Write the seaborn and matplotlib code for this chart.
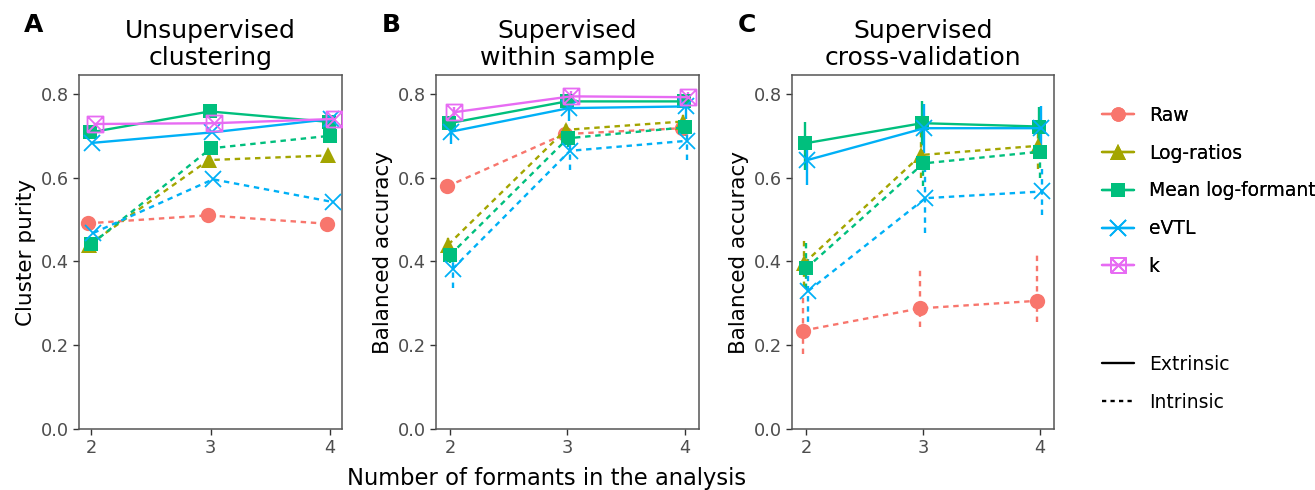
import numpy as np
import pandas as pd
import matplotlib
matplotlib.use("Agg")
import matplotlib.pyplot as plt
from matplotlib.lines import Line2D
from matplotlib.path import Path
import seaborn as sns

# ---- data ----
formants = [2, 3, 4]

# group order: (method, type)
groups = [("Raw", "Intrinsic"), ("Log-ratios", "Intrinsic"),
          ("Mean log-formant", "Extrinsic"), ("Mean log-formant", "Intrinsic"),
          ("eVTL", "Extrinsic"), ("eVTL", "Intrinsic"), ("k", "Extrinsic")]

# A: unsupervised clustering (cluster purity)
a_raw_i = [0.491, 0.510, 0.490]
a_lr_i = [0.440, 0.642, 0.653]
a_mlf_e = [0.708, 0.758, 0.733]
a_mlf_i = [0.441, 0.670, 0.700]
a_evtl_e = [0.683, 0.708, 0.740]
a_evtl_i = [0.468, 0.596, 0.542]
a_k_e = [0.728, 0.730, 0.740]

# B: supervised within sample (balanced accuracy) + interval half-width
b_raw_i = [0.579, 0.704, 0.718]
b_lr_i = [0.440, 0.714, 0.734]
b_mlf_e = [0.730, 0.782, 0.782]
b_mlf_i = [0.416, 0.694, 0.720]
b_evtl_e = [0.710, 0.766, 0.770]
b_evtl_i = [0.382, 0.664, 0.688]
b_k_e = [0.756, 0.794, 0.792]
b_err = [0.015, 0.015, 0.012, 0.02, 0.03, 0.045, 0.012]

# C: supervised cross-validation (balanced accuracy) with lower/upper bounds
c_raw_i = [0.235, 0.288, 0.306]
c_raw_lo = [0.180, 0.244, 0.256]
c_raw_hi = [0.324, 0.386, 0.415]
c_lr_i = [0.396, 0.654, 0.676]
c_lr_lo = [0.340, 0.600, 0.620]
c_lr_hi = [0.451, 0.710, 0.730]
c_mlf_e = [0.682, 0.730, 0.722]
c_mlf_e_lo = [0.618, 0.680, 0.675]
c_mlf_e_hi = [0.734, 0.782, 0.768]
c_mlf_i = [0.384, 0.634, 0.662]
c_mlf_i_lo = [0.335, 0.580, 0.600]
c_mlf_i_hi = [0.445, 0.690, 0.720]
c_evtl_e = [0.642, 0.718, 0.718]
c_evtl_e_lo = [0.583, 0.660, 0.665]
c_evtl_e_hi = [0.700, 0.775, 0.770]
c_evtl_i = [0.330, 0.551, 0.567]
c_evtl_i_lo = [0.232, 0.467, 0.511]
c_evtl_i_hi = [0.405, 0.635, 0.620]

titles = ["Unsupervised\nclustering", "Supervised\nwithin sample", "Supervised\ncross-validation"]
letters = ["A", "B", "C"]
ylabels = ["Cluster purity", "Balanced accuracy", "Balanced accuracy"]

colors = {"Raw": "#F8766D", "Log-ratios": "#A3A500", "Mean log-formant": "#00BF7D",
          "eVTL": "#00B0F6", "k": "#E76BF3"}

# square with a cross inside, like ggplot shape 7
sq_x = Path([(-1, -1), (1, -1), (1, 1), (-1, 1), (-1, -1), (-1, -1), (1, 1), (-1, 1), (1, -1)],
            [Path.MOVETO, Path.LINETO, Path.LINETO, Path.LINETO, Path.LINETO,
             Path.MOVETO, Path.LINETO, Path.MOVETO, Path.LINETO])
markers = {"Raw": ("o", 11), "Log-ratios": ("^", 12), "Mean log-formant": ("s", 10.5),
           "eVTL": ("x", 11.5), "k": (sq_x, 11.5)}
dash = (0, (2.3, 2.0))
lw = 1.7
dodge = np.linspace(-0.025, 0.03, len(groups))


def make_df(vals, lo=None, hi=None):
    rows = []
    for gi, (m, t) in enumerate(groups):
        if vals[gi] is None:
            continue
        for j, f in enumerate(formants):
            rows.append({"method": m, "type": t, "g": gi, "x": f + dodge[gi],
                         "y": vals[gi][j],
                         "lo": lo[gi][j] if lo is not None else np.nan,
                         "hi": hi[gi][j] if hi is not None else np.nan})
    return pd.DataFrame(rows)


df_a = make_df([a_raw_i, a_lr_i, a_mlf_e, a_mlf_i, a_evtl_e, a_evtl_i, a_k_e])
b_vals = [b_raw_i, b_lr_i, b_mlf_e, b_mlf_i, b_evtl_e, b_evtl_i, b_k_e]
df_b = make_df(b_vals,
               [[v - e for v in s] for s, e in zip(b_vals, b_err)],
               [[v + e for v in s] for s, e in zip(b_vals, b_err)])
df_c = make_df([c_raw_i, c_lr_i, c_mlf_e, c_mlf_i, c_evtl_e, c_evtl_i, None],
               [c_raw_lo, c_lr_lo, c_mlf_e_lo, c_mlf_i_lo, c_evtl_e_lo, c_evtl_i_lo, None],
               [c_raw_hi, c_lr_hi, c_mlf_e_hi, c_mlf_i_hi, c_evtl_e_hi, c_evtl_i_hi, None])

sns.set_theme(style="white")
plt.rcParams["font.family"] = ["DejaVu Sans"]
plt.rcParams["text.color"] = "black"
plt.rcParams["axes.labelcolor"] = "black"

fig = plt.figure(figsize=(13.15, 4.9), dpi=100)
W, H = 1315, 490
lefts = [79, 436, 792]
widths = [263, 263, 262]
bottom, top = 429, 75

for i, d in enumerate([df_a, df_b, df_c]):
    ax = fig.add_axes([lefts[i] / W, 1 - bottom / H, widths[i] / W, (bottom - top) / H])
    for gi, sub in d.groupby("g"):
        m, t = groups[gi]
        ls = "-" if t == "Extrinsic" else dash
        mk, ms = markers[m]
        if sub["lo"].notna().any():
            ax.vlines(sub["x"], sub["lo"], sub["hi"], colors=colors[m],
                      linestyles=ls, lw=lw, zorder=2)
        sns.lineplot(data=sub, x="x", y="y", color=colors[m], ax=ax, errorbar=None,
                     linestyle=ls, lw=lw, marker=mk, markersize=ms,
                     mfc="none" if m == "k" else colors[m], mec=colors[m],
                     mew=1.3 if m in ("eVTL", "k") else 0, zorder=3)
    ax.set_xlim(1.9, 4.1) if i == 0 else ax.set_xlim(1.88, 4.12)
    ax.set_ylim(0, 0.845)
    ax.set_xticks(formants)
    ax.set_yticks([0.0, 0.2, 0.4, 0.6, 0.8])
    ax.set_yticklabels(["0.0", "0.2", "0.4", "0.6", "0.8"])
    ax.set_xlabel("")
    ax.set_ylabel(ylabels[i], fontsize=15.5, labelpad=4)
    ax.tick_params(direction="out", length=4, width=1, color="#333333",
                   labelcolor="#4D4D4D", labelsize=12.8, pad=3,
                   bottom=True, left=True)
    for s in ax.spines.values():
        s.set_color("#555555")
        s.set_linewidth(1.1)
    ax.set_title(titles[i], fontsize=18, linespacing=1.15, pad=7)
    fig.text((lefts[i] - 45) / W, 1 - 25 / H, letters[i], fontsize=18,
             fontweight="bold", ha="center", va="center")

fig.text(547 / W, 1 - 478 / H, "Number of formants in the analysis", fontsize=16.3,
         ha="center", va="center")

meth_handles = [Line2D([0], [0], color=colors[m], lw=lw, marker=markers[m][0],
                       markersize=markers[m][1] * 0.95,
                       mfc="none" if m == "k" else colors[m], mec=colors[m],
                       mew=1.3 if m in ("eVTL", "k") else 0)
                for m in colors]
leg1 = fig.legend(meth_handles, list(colors), loc="upper left",
                  bbox_to_anchor=(1085 / W, 1 - 89 / H), frameon=False,
                  fontsize=13.5, handlelength=1.7, handletextpad=0.8, labelspacing=1.0,
                  labelcolor="black")
fig.add_artist(leg1)
type_handles = [Line2D([0], [0], color="black", lw=lw, linestyle="-"),
                Line2D([0], [0], color="black", lw=lw, linestyle=(0, (1.8, 1.8)))]
fig.legend(type_handles, ["Extrinsic", "Intrinsic"], loc="upper left",
           bbox_to_anchor=(1085 / W, 1 - 338 / H), frameon=False,
           fontsize=13.5, handlelength=1.7, handletextpad=0.8, labelspacing=1.0,
           labelcolor="black")

fig.savefig("out.png", dpi=100)
